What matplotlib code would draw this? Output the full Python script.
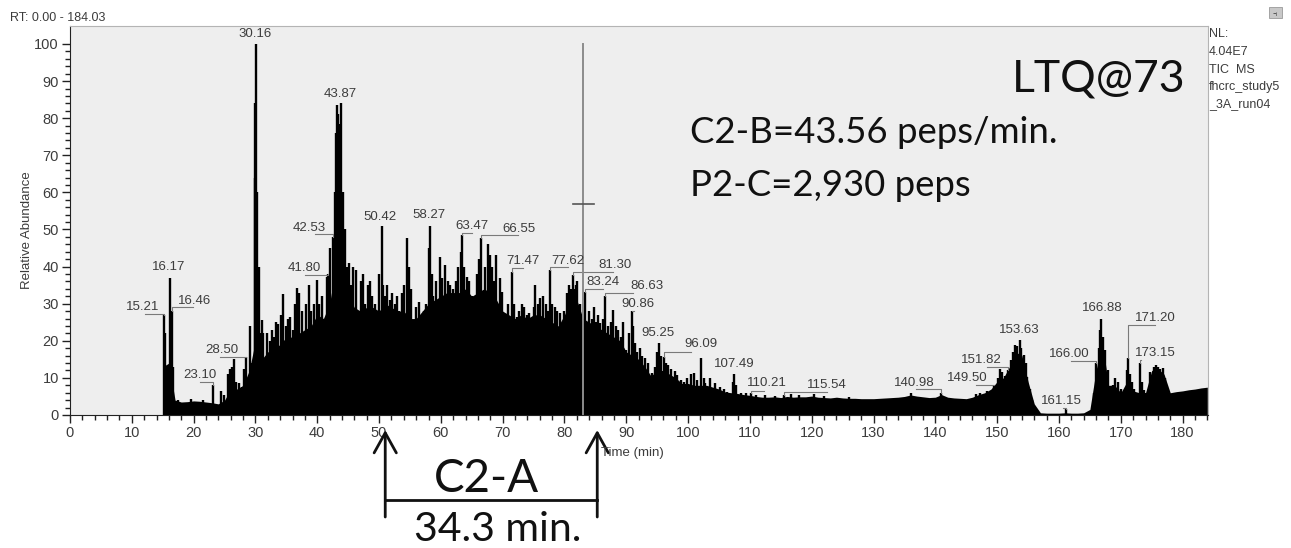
import matplotlib
matplotlib.use("Agg")
import matplotlib.pyplot as plt
import matplotlib.transforms as mtransforms
import numpy as np

# lower body of the TIC trace, one value per minute (15 ... 184 min)
base_rt = np.arange(15, 185)
base_ab = [13, 14, 4, 3.5, 3.6, 3.8, 3.7, 3.5, 3.3, 3.0,
           4, 7, 7, 8, 12, 20, 15, 17, 18, 19,
           21, 21, 22, 23, 24, 27, 26, 30, 40, 40,
           32, 29, 28, 29, 29, 28, 30, 29, 28, 28,
           26, 26, 28, 30, 31, 32, 33, 33, 33, 34,
           32, 33, 34, 33, 31, 28, 27, 26, 27, 26,
           27, 27, 26, 25, 24, 27, 31, 31, 26, 25,
           24, 23, 22, 21, 20, 17, 16, 15, 13, 10.5,
           12, 12, 11, 10, 8.5, 8.5, 8, 8, 8, 7.5,
           7, 6.2, 6, 5.8, 5.5, 5.3, 5, 4.8, 4.8, 4.9,
           4.7, 5, 4.8, 4.9, 4.9, 5.1, 4.8, 4.7, 4.6, 4.8,
           4.6, 4.5, 4.5, 4.4, 4.4, 4.4, 4.5, 4.6, 4.7, 4.8,
           5.0, 5.4, 5.1, 4.9, 4.7, 4.8, 5.5, 4.8, 4.6, 4.5,
           4.4, 4.8, 5.5, 6, 7, 9, 10, 13, 17, 16,
           9, 3, 0.6, 0.5, 0.5, 0.5, 0.6, 0.5, 0.5, 0.6,
           1.5, 12, 20, 8, 8, 6, 9, 6.5, 6, 6,
           12, 12.5, 11, 6, 6.3, 6.5, 6.8, 7, 7.3, 7.5]

# individual scans / spikes (retention time, relative abundance)
spike_rt = [15.21, 15.45, 15.7, 16.17, 16.46, 16.7, 17.5, 19.5, 21.5, 23.10,
            24.4, 24.9, 25.6, 25.9, 26.2, 26.5, 26.9, 27.4, 27.8, 28.2,
            28.50, 29.1, 29.5, 29.9, 30.0, 30.16, 30.3, 30.5, 30.8, 31.0,
            31.3, 31.6, 31.9, 32.3, 32.6, 33.0, 33.3, 33.7, 34.1, 34.5,
            34.9, 35.3, 35.6, 36.0, 36.4, 36.7, 37.1, 37.5, 37.8, 38.2,
            38.6, 39.0, 39.4, 39.9, 40.3, 40.7, 41.1, 41.5, 41.80, 42.1,
            42.53, 42.8, 43.0, 43.2, 43.4, 43.6, 43.87, 44.1, 44.5, 44.8,
            45.2, 45.5, 45.8, 46.2, 46.6, 47.0, 47.4, 47.8, 48.2, 48.5,
            48.9, 49.3, 49.7, 50.0, 50.42, 50.7, 51.0, 51.3, 51.7, 52.1,
            52.5, 52.9, 53.3, 53.7, 54.1, 54.5, 54.8, 55.1, 55.5, 55.9,
            56.4, 56.8, 57.2, 57.6, 58.0, 58.27, 58.6, 58.8, 59.2, 59.8,
            60.2, 60.7, 61.1, 61.5, 62.0, 62.4, 62.8, 63.2, 63.47, 63.8,
            64.2, 64.6, 65.0, 65.4, 65.8, 66.2, 66.55, 66.9, 67.2, 67.6,
            68.0, 68.3, 68.6, 69.0, 69.5, 69.9, 70.4, 70.9, 71.47, 71.8,
            72.3, 72.7, 73.1, 73.5, 73.9, 74.2, 74.6, 75.0, 75.3, 75.7,
            76.1, 76.6, 77.0, 77.3, 77.62, 78.0, 78.4, 78.8, 79.3, 79.6,
            80.0, 80.4, 80.7, 81.0, 81.30, 81.6, 81.9, 82.1, 82.5, 83.24,
            83.6, 84.0, 84.4, 84.7, 85.1, 85.4, 85.8, 86.2, 86.63, 87.1,
            87.5, 87.9, 88.3, 88.7, 89.1, 89.5, 90.0, 90.4, 90.86, 91.1,
            91.4, 91.8, 92.2, 92.6, 93.0, 93.5, 94.1, 94.6, 95.0, 95.25,
            95.6, 96.09, 96.4, 96.8, 97.3, 97.8, 98.2, 98.8, 99.3, 99.9,
            100.4, 100.9, 101.5, 102.1, 102.5, 102.8, 103.6, 104.3, 105.2, 105.8,
            106.3, 107.2, 107.49, 107.8, 108.5, 109.3, 110.21, 111.0, 112.5, 114.0,
            115.54, 116.6, 118.0, 120.3, 122.0, 126.0, 136.0, 140.98, 146.5, 147.3,
            148.4, 149.50, 150.2, 150.5, 150.8, 151.2, 151.82, 152.2, 152.6, 152.9,
            153.2, 153.63, 153.9, 154.3, 154.6, 154.9, 155.3, 155.7, 161.15, 165.6,
            166.00, 166.4, 166.7, 166.88, 167.2, 167.5, 167.9, 168.3, 168.8, 169.1,
            169.6, 170.0, 170.4, 171.0, 171.20, 171.5, 171.8, 172.2, 172.6, 173.15,
            173.4, 173.7, 174.1, 174.7, 175.3, 175.7, 176.0, 176.4, 176.8, 177.2,
            177.5]
spike_ab = [27, 22, 13, 37, 28, 13, 4.0, 4.2, 4.1, 8,
            6.5, 5.5, 11, 12.5, 13, 15, 9, 8.5, 7.5, 12.5,
            15.5, 24, 14, 64, 84, 100, 60, 40, 22, 25.6,
            22, 15, 22, 20, 23, 21, 25, 24.5, 27, 32.6,
            24, 26, 26.5, 23, 30, 34.2, 33, 28, 22, 30,
            35, 28, 30, 36.4, 30, 32, 26, 37.3, 38, 45,
            48, 60, 76, 83.5, 81, 78.5, 84, 60, 50, 40,
            41, 35, 40, 39, 27, 36, 38, 30, 35, 36,
            32, 30, 26, 38, 51, 35, 32, 35, 31, 33,
            30, 32, 28, 33, 35, 47.6, 40, 34, 24, 29,
            30.5, 27, 28, 30, 45, 51, 38, 32, 36, 42.7,
            37, 40.4, 36, 35, 34, 36, 40, 44, 48.5, 40,
            37.3, 36, 32, 31, 38, 42, 47.6, 33.7, 40, 46,
            43.2, 40, 36, 43, 37, 33.2, 25.7, 30, 38.6, 30,
            26.5, 28, 30, 29, 27, 27.4, 26, 29, 35, 30,
            31.5, 32, 30, 28, 39.1, 30, 29.2, 28, 27.4, 22.5,
            28, 33, 35, 34, 37.7, 34, 35, 36, 30, 33.2,
            24.7, 28, 26, 29.2, 25, 27, 24.7, 26, 32, 24,
            25, 28.3, 24, 23, 21, 25.2, 17.5, 22, 28, 24,
            19.3, 17, 18, 16, 15.3, 14, 11.2, 13, 17, 19.3,
            16, 15.5, 14, 13.5, 12.5, 11.8, 10.8, 9.5, 9, 10,
            11, 11.4, 9.5, 15.3, 10, 8.5, 9.9, 8.5, 7.6, 7,
            6.3, 9, 11, 8, 5.8, 6, 5.9, 5.3, 5.3, 5.2,
            5.3, 5.6, 5.3, 5.6, 5.1, 4.8, 5.8, 5.9, 5.6, 6,
            6.5, 8.1, 10, 12.5, 11.5, 10.5, 12.2, 14.8, 17, 18.9,
            18.5, 20.2, 18, 16.2, 14, 10.3, 7, 4, 1.5, 6,
            13.9, 18, 22.9, 26, 21, 17.5, 12, 6.7, 8, 9.9,
            9, 7, 5.8, 12, 15.3, 11, 9, 7, 5.8, 13.9,
            9, 6.7, 6, 11.7, 13, 13.5, 13, 12.5, 12.8, 10,
            5.8]

# labelled peaks: text, peak rt, peak abundance
peak_names = ["15.21", "16.17", "16.46", "23.10", "28.50", "30.16", "41.80", "42.53",
              "43.87", "50.42", "58.27", "63.47", "66.55", "71.47", "77.62", "81.30",
              "83.24", "86.63", "90.86", "95.25", "96.09", "107.49", "110.21", "115.54",
              "140.98", "149.50", "151.82", "153.63", "161.15", "166.00", "166.88",
              "171.20", "173.15"]
peak_rt = [15.21, 16.17, 16.46, 23.10, 28.50, 30.16, 41.80, 42.53,
           43.87, 50.42, 58.27, 63.47, 66.55, 71.47, 77.62, 81.30,
           83.24, 86.63, 90.86, 95.25, 96.09, 107.49, 110.21, 115.54,
           140.98, 149.50, 151.82, 153.63, 161.15, 166.00, 166.88,
           171.20, 173.15]
peak_ab = [27, 37, 28, 8, 15.5, 100, 38, 48,
           84, 51, 51, 48.5, 47.6, 38.6, 39.1, 37.7,
           33.2, 32, 28, 19.3, 15.5, 11, 5.9, 5.3,
           5.9, 8.1, 12.2, 20.2, 1.5, 13.9, 26,
           15.3, 13.9]

# where each label sits (text centre) and where its leader meets it (None = straight above)
label_xy = [(11.8, 29.0), (16.0, 39.9), (20.1, 30.7), (21.0, 10.8), (24.6, 17.5),
            (29.95, 102.7), (37.9, 39.6), (38.7, 50.4), (43.7, 86.5), (50.2, 53.4),
            (58.1, 53.9), (65.1, 50.9), (72.7, 50.1), (73.3, 41.5), (80.6, 41.5),
            (88.1, 40.4), (86.3, 35.8), (93.4, 34.8), (91.9, 29.9), (95.2, 22.1),
            (102.1, 19.1), (107.5, 13.7), (112.7, 8.6), (122.4, 8.1), (136.6, 8.6),
            (145.2, 10.0), (147.5, 14.8), (153.6, 22.9), (160.4, 3.8), (161.7, 16.4),
            (167.0, 28.8), (175.6, 26.1), (175.6, 16.7)]
leader_xy = [(12.1, 27.2), None, (19.9, 29.0), (21.0, 8.9), (24.3, 15.6),
             None, (38.0, 37.7), (39.7, 48.7), None, None,
             None, (65.0, 49.0), (72.5, 48.4), (73.3, 39.6), (80.6, 39.9),
             (87.9, 38.5), (86.3, 34.0), (91.1, 32.9), (91.3, 28.0), None,
             (100.4, 17.0), None, (112.2, 6.5), (122.5, 6.2), (136.8, 7.0),
             (146.5, 8.1), (148.4, 12.9), None, (160.7, 2.0), (161.9, 14.6),
             None, (175.5, 24.3), (173.2, 14.8)]

fig = plt.figure(figsize=(12.91, 5.48), dpi=100)
ax = fig.add_axes([70 / 1291, 1 - 415 / 548, (1207.5 - 70) / 1291, (415 - 26) / 548])
ax.set_facecolor("#eeeeee")

ax.fill_between(base_rt, 0, base_ab, color="black", lw=0)
ax.vlines(spike_rt, 0, spike_ab, colors="black", lw=1.7)

gray_txt = "#3c3c3c"
for name, prt, pab, (tx, ty), lead in zip(peak_names, peak_rt, peak_ab, label_xy, leader_xy):
    ax.text(tx, ty, name, ha="center", va="center", fontsize=9.5,
            family="Liberation Sans", color=gray_txt)
    if lead is not None:
        ax.plot([prt, prt, lead[0]], [pab, lead[1], lead[1]], color="#7a7a7a", lw=0.8)

# cursor line
ax.plot([83.0, 83.0], [0, 100], color="#8c8c8c", lw=1.4)
ax.plot([81.4, 84.7], [56.9, 56.9], color="#555555", lw=1.2)

ax.set_xlim(0, 184.03)
ax.set_ylim(0, 104.85)
ax.set_xticks(np.arange(0, 181, 10))
ax.set_xticks(np.arange(0, 185, 2), minor=True)
ax.set_yticks(np.arange(0, 101, 10))
ax.set_yticks(np.arange(0, 101, 2), minor=True)
ax.tick_params(which="major", direction="out", length=6, width=1, color="#222222",
               labelsize=10.5, labelcolor=gray_txt, pad=2)
ax.tick_params(which="minor", direction="out", length=3.5, width=1, color="#222222")
for lab in ax.get_xticklabels() + ax.get_yticklabels():
    lab.set_family("Liberation Sans")
ax.spines["left"].set_color("#222222")
ax.spines["bottom"].set_color("#222222")
ax.spines["top"].set_color("#b4b4b4")
ax.spines["right"].set_color("#b4b4b4")

fig.text(27 / 1291, 1 - 230 / 548, "Relative Abundance", rotation=90, ha="center",
         va="center", fontsize=9.5, family="Liberation Sans", color=gray_txt)
fig.text(10 / 1291, 1 - 18 / 548, "RT: 0.00 - 184.03", ha="left", va="center",
         fontsize=9, family="Liberation Sans", color=gray_txt)
for line, ypx in zip(["NL:", "4.04E7", "TIC  MS", "fhcrc_study5", "_3A_run04"],
                     [34, 52, 70, 87, 104]):
    fig.text(1209 / 1291, 1 - ypx / 548, line, ha="left", va="center", fontsize=9,
             family="Liberation Sans", color=gray_txt)
fig.patches.append(plt.Rectangle((1269 / 1291, 1 - 18 / 548), 13 / 1291, 11 / 548,
                                 transform=fig.transFigure, facecolor="#c8c8c8",
                                 edgecolor="#9a9a9a", lw=0.6))
fig.text(1275.5 / 1291, 1 - 12.5 / 548, "-ᵢ", ha="center", va="center", fontsize=7,
         color="#444444")

# big annotation text
fig.text(1185 / 1291, 1 - 92 / 548, "LTQ@73", ha="right", va="baseline",
         fontsize=32, family="Lato", color="#111111")
fig.text(690 / 1291, 1 - 143 / 548, "C2-B=43.56 peps/min.", ha="left", va="baseline",
         fontsize=26.3, family="Lato", color="#111111")
fig.text(690 / 1291, 1 - 196 / 548, "P2-C=2,930 peps", ha="left", va="baseline",
         fontsize=26.3, family="Lato", color="#111111")

# C2-A bracket below the time axis
trans = mtransforms.blended_transform_factory(ax.transData, ax.transAxes)
ax_h = 389.0
c2a_start, c2a_end = 51.0, 85.3
for xr in (c2a_start, c2a_end):
    ax.annotate("", xy=(xr, -(430 - 415) / ax_h), xytext=(xr, -(517 - 415) / ax_h),
                xycoords=trans, textcoords=trans, annotation_clip=False,
                arrowprops=dict(arrowstyle="->,head_length=0.9,head_width=0.5",
                                lw=2, color="#111111", mutation_scale=16,
                                shrinkA=0, shrinkB=0))
ax.plot([c2a_start, c2a_end], [-(500 - 415) / ax_h] * 2, transform=trans,
        color="#111111", lw=2, clip_on=False)
ax.text((c2a_start + c2a_end) / 2 - 0.8, -(492 - 415) / ax_h, "C2-A", transform=trans,
        ha="center", va="baseline", fontsize=33, family="Lato", color="#111111")
ax.text((c2a_start + c2a_end) / 2 + 1, -(541 - 415) / ax_h, "34.3 min.", transform=trans,
        ha="center", va="baseline", fontsize=29.5, family="Lato", color="#111111")
ax.text(85.9, -(453 - 415) / ax_h, "Time (min)", transform=trans, ha="left", va="center",
        fontsize=9.5, family="Liberation Sans", color=gray_txt)

fig.savefig("out.png", dpi=100)
